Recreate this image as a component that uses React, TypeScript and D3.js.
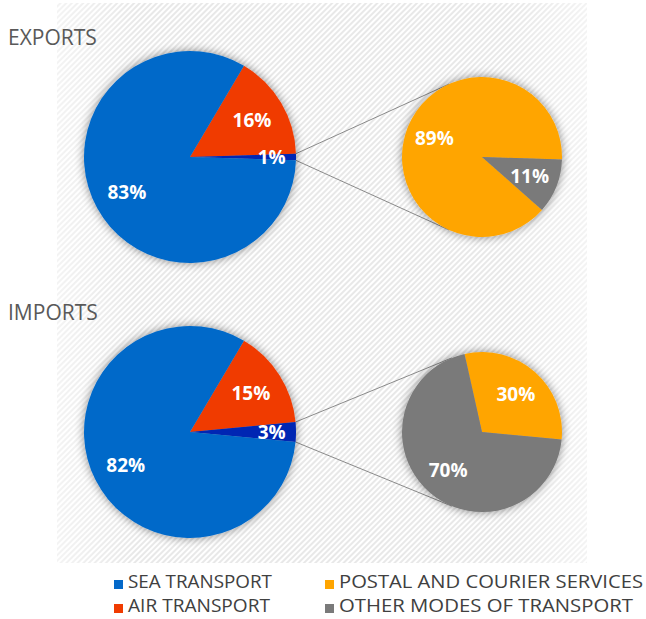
import React from "react";
import * as d3 from "d3";

const W = 646;
const H = 619;

const categories = ["SEA TRANSPORT", "AIR TRANSPORT", "POSTAL AND COURIER SERVICES", "OTHER MODES OF TRANSPORT"];
const colors = ["#0469c9", "#f03b00", "#ffa500", "#7a7a7a"];
const otherColor = "#0026b3";

const panelTitles = ["EXPORTS", "IMPORTS"];
// primary pie: [air, other (aggregated), sea]
const exportsPrimary = [16, 1, 83];
const importsPrimary = [15, 3, 82];
// secondary pie: [postal, other modes]
const exportsSecondary = [89, 11];
const importsSecondary = [30, 70];

const primaryLabels = [["16%", "1%", "83%"], ["15%", "3%", "82%"]];
const secondaryLabels = [["89%", "11%"], ["30%", "70%"]];

function Panel({ cy, title, prim, sec, pLabels, sLabels }: any) {
  const cx1 = 190, r1 = 106;
  const cx2 = 482, r2 = 80;
  const total = d3.sum(prim);
  const airF = prim[0] / total;
  const othF = prim[1] / total;
  const start = Math.PI / 2 - (airF + othF / 2) * 2 * Math.PI;
  const pie1 = d3.pie<number>().sort(null).startAngle(start).endAngle(start + 2 * Math.PI)(prim);
  const arc1 = d3.arc<any>().innerRadius(0).outerRadius(r1);
  const primColors = [colors[1], otherColor, colors[0]];

  const sTotal = d3.sum(sec);
  const boundary = Math.PI / 2 + othF * Math.PI;
  const s2 = boundary - (sec[0] / sTotal) * 2 * Math.PI;
  const pie2 = d3.pie<number>().sort(null).startAngle(s2).endAngle(s2 + 2 * Math.PI)(sec);
  const arc2 = d3.arc<any>().innerRadius(0).outerRadius(r2);
  const secColors = [colors[2], colors[3]];

  const pt = (cx: number, c: number, r: number, a: number) => [cx + r * Math.sin(a), c - r * Math.cos(a)];
  const oth = pie1[1];
  const pA = pt(cx1, cy, r1, oth.startAngle);
  const pB = pt(cx1, cy, r1, oth.endAngle);
  const tangent = (p: number[], upper: boolean) => {
    const dx = p[0] - cx2, dy = p[1] - cy;
    const d = Math.hypot(dx, dy);
    const base = Math.atan2(dx, -dy);
    const off = Math.acos(r2 / d);
    return pt(cx2, cy, r2, upper ? base + off : base - off);
  };
  const tA = tangent(pA, true);
  const tB = tangent(pB, false);

  const labelFont = { fill: "#fff", fontWeight: "bold" as const, fontSize: 19, fontFamily: "'Open Sans', sans-serif" };

  return (
    <g>
      <text x={8} y={cy - 112} fontSize={21} fill="#595959" fontFamily="'Open Sans', sans-serif">{title}</text>
      <line x1={pA[0]} y1={pA[1]} x2={tA[0]} y2={tA[1]} stroke="#8a8a8a" strokeWidth={1} />
      <line x1={pB[0]} y1={pB[1]} x2={tB[0]} y2={tB[1]} stroke="#8a8a8a" strokeWidth={1} />
      <g transform={`translate(${cx1},${cy})`} filter="url(#shadow)">
        {pie1.map((d, i) => <path key={i} d={arc1(d) as string} fill={primColors[i]} />)}
      </g>
      <g transform={`translate(${cx1},${cy})`}>
        {pie1.map((d, i) => {
          const a = (d.startAngle + d.endAngle) / 2;
          const rr = i === 1 ? r1 * 0.77 : r1 * 0.68;
          return (
            <text key={i} x={rr * Math.sin(a)} y={-rr * Math.cos(a)} textAnchor="middle" dominantBaseline="central"
              {...labelFont}>{pLabels[i]}</text>
          );
        })}
      </g>
      <g transform={`translate(${cx2},${cy})`} filter="url(#shadow)">
        {pie2.map((d, i) => <path key={i} d={arc2(d) as string} fill={secColors[i]} />)}
      </g>
      <g transform={`translate(${cx2},${cy})`}>
        {pie2.map((d, i) => {
          const a = (d.startAngle + d.endAngle) / 2;
          const rr = r2 * 0.64;
          return (
            <text key={i} x={rr * Math.sin(a)} y={-rr * Math.cos(a)} textAnchor="middle" dominantBaseline="central"
              {...labelFont}>{sLabels[i]}</text>
          );
        })}
      </g>
    </g>
  );
}

export default function App() {
  const legendPos = [
    [114, 580], [114, 604], [325, 580], [325, 604],
  ];
  const legendWidths = [144, 142, 304, 294];
  return (
    <svg width={W} height={H} style={{ position: "absolute", left: 0, top: 0 }}>
      <defs>
        <pattern id="hatch" width="4" height="4" patternUnits="userSpaceOnUse" patternTransform="rotate(45)">
          <rect width="4" height="4" fill="#ffffff" />
          <rect width="2" height="4" fill="#e8e8e8" />
        </pattern>
        <linearGradient id="fade" x1="0" x2="1" y1="0" y2="0">
          <stop offset="0" stopColor="#fff" stopOpacity="0.5" />
          <stop offset="0.15" stopColor="#fff" stopOpacity="0" />
          <stop offset="0.85" stopColor="#fff" stopOpacity="0" />
          <stop offset="1" stopColor="#fff" stopOpacity="0.5" />
        </linearGradient>
        <filter id="shadow" x="-20%" y="-20%" width="140%" height="140%">
          <feDropShadow dx="0" dy="0" stdDeviation="5" floodColor="#000" floodOpacity="0.45" />
        </filter>
      </defs>
      <rect x={0} y={0} width={W} height={H} fill="#fff" />
      <rect x={57} y={3} width={530} height={560} fill="url(#hatch)" />
      <rect x={57} y={3} width={530} height={560} fill="url(#fade)" />
      <Panel cy={157} title={panelTitles[0]} prim={exportsPrimary} sec={exportsSecondary}
        pLabels={primaryLabels[0]} sLabels={secondaryLabels[0]} />
      <Panel cy={432} title={panelTitles[1]} prim={importsPrimary} sec={importsSecondary}
        pLabels={primaryLabels[1]} sLabels={secondaryLabels[1]} />
      {categories.map((c, i) => (
        <g key={c}>
          <rect x={legendPos[i][0]} y={legendPos[i][1]} width={9} height={9} fill={colors[i]} />
          <text x={legendPos[i][0] + 14} y={legendPos[i][1] + 7.5} fontSize={19}
            textLength={legendWidths[i]} lengthAdjust="spacingAndGlyphs"
            fill="#404040" fontFamily="'Open Sans', sans-serif">{c}</text>
        </g>
      ))}
    </svg>
  );
}
